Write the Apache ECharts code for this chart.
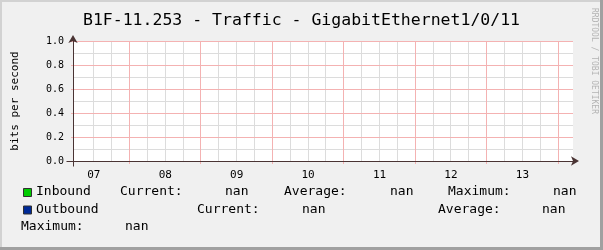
<!DOCTYPE html>
<html><head><meta charset="utf-8">
<script src="https://cdn.jsdelivr.net/npm/echarts@6/dist/echarts.min.js"></script>
<style>html,body{margin:0;padding:0;background:#f0f0f0}#c{width:603px;height:250px}</style>
</head><body><div id="c"></div>
<script>
// ---- chart content ----
const chartTitle = 'B1F-11.253 - Traffic - GigabitEthernet1/0/11';
const yAxisTitle = 'bits per second';
const watermark = 'RRDTOOL / TOBI OETIKER';
const dayLabels = ['07', '08', '09', '10', '11', '12', '13'];
const hoursShown = 168;          // one week, hourly slots
const firstMidnightHour = 19;    // hour index of first day boundary
const firstNoonHour = 7;         // hour index of first day label
const yTicks = [0.0, 0.2, 0.4, 0.6, 0.8, 1.0];
const yMinorTicks = [0.1, 0.3, 0.5, 0.7, 0.9];
const seriesNames = ['Inbound', 'Outbound'];
const seriesColors = ['#00cc00', '#002a97'];
const inboundValues = [];        // all values are NaN
const outboundValues = [];       // all values are NaN
const statLabels = ['Current:', 'Average:', 'Maximum:'];
const inboundStats = ['nan', 'nan', 'nan'];
const outboundStats = ['nan', 'nan', 'nan'];

// ---- build ----
const hourCats = [];
for (let i = 0; i <= hoursShown; i++) hourCats.push(String(i));
const FONT = 'DejaVu Sans Mono';
const AXIS = '#4a3434';
const MAJOR = '#f4b2b2';
const MINOR = '#dcdcdc';
const isMidnight = i => (i - firstMidnightHour) % 24 === 0;
const isNoon = i => i >= firstNoonHour && (i - firstNoonHour) % 24 === 0;
const isMinor = i => i >= firstNoonHour && (i - firstMidnightHour) % 6 === 0 && !isMidnight(i);
const yMin = yTicks[0], yMax = yTicks[yTicks.length - 1];

const chart = echarts.init(document.getElementById('c'), null, {renderer: 'canvas'});

chart.setOption({
  backgroundColor: '#f0f0f0',
  animation: false,
  grid: {left: 73, top: 41, width: 500, height: 120, show: true, backgroundColor: '#ffffff', borderWidth: 0},
  xAxis: {
    type: 'category', data: hourCats, boundaryGap: false, position: 'bottom', z: 5,
    axisLine: {show: true, lineStyle: {color: AXIS, width: 1}, symbol: ['none', 'arrow'], symbolSize: [7, 8], symbolOffset: [0, 6]},
    axisTick: {show: false},
    axisLabel: {
      interval: (i) => isNoon(i), margin: 9,
      formatter: (v, i) => dayLabels[(i - firstNoonHour) / 24] || '',
      fontFamily: FONT, fontSize: 11, color: '#000'
    },
    splitLine: {show: false}
  },
  yAxis: {
    type: 'value', min: yMin, max: yMax, interval: yTicks[1] - yTicks[0], z: 5,
    axisLine: {show: true, lineStyle: {color: AXIS, width: 1}, symbol: ['none', 'arrow'], symbolSize: [7, 8], symbolOffset: [0, 6]},
    axisTick: {show: false},
    axisLabel: {formatter: (v) => v.toFixed(1), fontFamily: FONT, fontSize: 10, color: '#000', margin: 9},
    splitLine: {show: false}
  },
  series: [
    {name: seriesNames[0], type: 'line', data: inboundValues, color: seriesColors[0], showSymbol: false},
    {name: seriesNames[1], type: 'line', data: outboundValues, color: seriesColors[1], showSymbol: false}
  ]
});

// grid lines placed through the chart's own scales
const px = (xi, yv) => chart.convertToPixel({xAxisIndex: 0, yAxisIndex: 0}, [hourCats[xi], yv]);
const crisp = v => Math.floor(v) + 0.5;
const left = px(0, yMin), right = px(hoursShown, yMax);
const x0 = left[0], y0 = left[1], x1 = right[0], y1 = right[1];
const lines = [];
const hLine = (yv, color, ext, z) => {
  const y = crisp(px(0, yv)[1]);
  lines.push({type: 'line', z: z, silent: true, shape: {x1: x0 - ext, y1: y, x2: x1, y2: y}, style: {stroke: color, lineWidth: 1}});
};
const vLine = (i, color, ext, z) => {
  const x = crisp(px(i, yMin)[0]);
  lines.push({type: 'line', z: z, silent: true, shape: {x1: x, y1: y1, x2: x, y2: y0 + ext}, style: {stroke: color, lineWidth: 1}});
};
yMinorTicks.forEach(v => hLine(v, MINOR, 0, 1));
for (let i = 0; i <= hoursShown; i++) if (isMinor(i)) vLine(i, MINOR, 0, 1);
yTicks.forEach(v => { if (v !== yMin) hLine(v, MAJOR, 2, 2); });
for (let i = 0; i <= hoursShown; i++) if (isMidnight(i)) vLine(i, MAJOR, 3, 2);

const txt = (x, y, s) => ({
  type: 'text', x: x, y: y, z: 10,
  style: {text: s, font: '13px "' + FONT + '"', fill: '#000', align: 'left', verticalAlign: 'middle'}
});
const rowY = [192, 209.5, 227];
const ax = crisp(x0), ay = crisp(y0);
const graphics = lines.concat([
  // frame
  {type: 'rect', shape: {x: 0, y: 0, width: 603, height: 2}, style: {fill: '#d2d2d2'}},
  {type: 'rect', shape: {x: 0, y: 0, width: 2, height: 250}, style: {fill: '#d2d2d2'}},
  {type: 'rect', shape: {x: 600, y: 0, width: 3, height: 250}, style: {fill: '#a0a0a0'}},
  {type: 'rect', shape: {x: 0, y: 247, width: 603, height: 3}, style: {fill: '#a0a0a0'}},
  // axis stubs beyond the origin
  {type: 'line', z: 10, shape: {x1: ax - 7, y1: ay, x2: ax, y2: ay}, style: {stroke: AXIS, lineWidth: 1}},
  {type: 'line', z: 10, shape: {x1: ax, y1: ay, x2: ax, y2: ay + 5}, style: {stroke: AXIS, lineWidth: 1}},
  // title
  {type: 'text', x: 301.5, y: 20.5, style: {text: chartTitle, font: '16.5px "' + FONT + '"', fill: '#000', align: 'center', verticalAlign: 'middle'}},
  // y title
  {type: 'text', x: 15, y: 101, rotation: Math.PI / 2, style: {text: yAxisTitle, font: '11px "' + FONT + '"', fill: '#000', align: 'center', verticalAlign: 'middle'}},
  // watermark
  {type: 'text', x: 594, y: 61, rotation: -Math.PI / 2, style: {text: watermark, font: '8px "' + FONT + '"', fill: '#b4b4b4', align: 'center', verticalAlign: 'middle'}},
  // legend squares
  {type: 'rect', shape: {x: 23.5, y: rowY[0] - 3.5, width: 8, height: 8}, style: {fill: seriesColors[0], stroke: '#303030', lineWidth: 1}},
  {type: 'rect', shape: {x: 23.5, y: rowY[1] - 3.5, width: 8, height: 8}, style: {fill: seriesColors[1], stroke: '#303030', lineWidth: 1}},
  // row 1
  txt(36, rowY[0], seriesNames[0]),
  txt(120, rowY[0], statLabels[0]), txt(225, rowY[0], inboundStats[0]),
  txt(284, rowY[0], statLabels[1]), txt(390, rowY[0], inboundStats[1]),
  txt(448, rowY[0], statLabels[2]), txt(553, rowY[0], inboundStats[2]),
  // row 2
  txt(36, rowY[1], seriesNames[1]),
  txt(197, rowY[1], statLabels[0]), txt(302, rowY[1], outboundStats[0]),
  txt(438, rowY[1], statLabels[1]), txt(542, rowY[1], outboundStats[1]),
  // row 3
  txt(21, rowY[2], statLabels[2]), txt(125, rowY[2], outboundStats[2])
]);
chart.setOption({graphic: graphics});
</script></body></html>
